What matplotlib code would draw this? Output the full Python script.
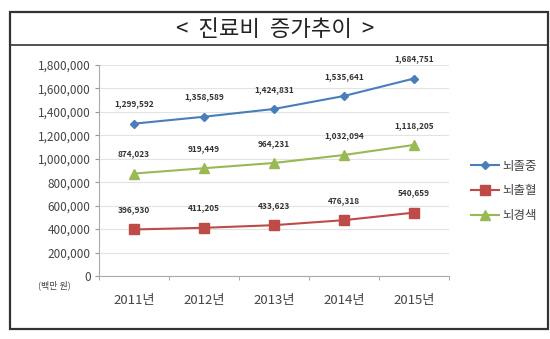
import numpy as np
import matplotlib.pyplot as plt
from matplotlib.patches import Rectangle
from matplotlib.lines import Line2D

plt.rcParams['font.family'] = ['Noto Sans CJK KR', 'DejaVu Sans']

years = ['2011년', '2012년', '2013년', '2014년', '2015년']
stroke = [1299592, 1358589, 1424831, 1535641, 1684751]      # 뇌졸중
hemorrhage = [396930, 411205, 433623, 476318, 540659]       # 뇌출혈
infarction = [874023, 919449, 964231, 1032094, 1118205]     # 뇌경색
names = ['뇌졸중', '뇌출혈', '뇌경색']
yticks = np.arange(0, 1800001, 200000)

fig = plt.figure(figsize=(5.5, 3.39), dpi=100)

# outer frame with title row
fig.add_artist(Rectangle((10/550, 1-329/339), 538/550, 317/339, transform=fig.transFigure,
                         fill=False, edgecolor='#333333', linewidth=1.6))
fig.add_artist(Line2D([10/550, 548/550], [1-45/339, 1-45/339], transform=fig.transFigure,
                      color='#333333', linewidth=1.2))
fig.text(0.5, 1-29/339, '<  진료비  증가추이  >', ha='center', va='center',
         fontsize=16, fontweight='medium', color='#222222')

ax = fig.add_axes([99/550, 1-276/339, 350/550, 211/339])
x = np.arange(len(years))

series = [
    (stroke, '#4A7EBB', 'D', 4.5),
    (hemorrhage, '#BE4B48', 's', 6.5),
    (infarction, '#98B954', '^', 6.5),
]
handles = []
for vals, col, mk, ms in series:
    h, = ax.plot(x, vals, color=col, marker=mk, markersize=ms, linewidth=1.5)
    handles.append(h)
    for xi, v in zip(x, vals):
        ax.annotate(f'{v:,}', (xi, v), xytext=(0, 11), textcoords='offset points',
                    ha='center', va='bottom', fontsize=6, fontweight='bold',
                    color='#333333')

ax.set_xlim(-0.5, len(years) - 0.5)
ax.set_ylim(0, 1800000)
ax.set_yticks(yticks)
ax.set_yticklabels([f'{v:,}' for v in yticks], fontsize=8.5, color='#444444')
ax.set_xticks(x)
ax.set_xticklabels(years, fontsize=9.5, color='#444444')
ax.set_xticks(np.arange(-0.5, len(years)), minor=True)
ax.tick_params(axis='x', which='major', length=0, pad=13)
ax.tick_params(axis='x', which='minor', length=3, color='#999999')
ax.tick_params(axis='y', length=3, color='#999999', pad=3)
ax.grid(axis='y', color='#e3e3e3', linewidth=0.8)
ax.set_axisbelow(True)
for s in ['top', 'right']:
    ax.spines[s].set_visible(False)
for s in ['left', 'bottom']:
    ax.spines[s].set_color('#aaaaaa')

fig.text(54/550, 1-285/339, '(백만 원)', fontsize=6.5, color='#444444',
         ha='center', va='center')

fig.legend(handles, names, loc='center left', bbox_to_anchor=(460/550, 1-191/339),
           frameon=False, fontsize=9, labelcolor='#444444', handlelength=2.2,
           handletextpad=0.3, labelspacing=0.95)

fig.savefig('out.png', dpi=100)
